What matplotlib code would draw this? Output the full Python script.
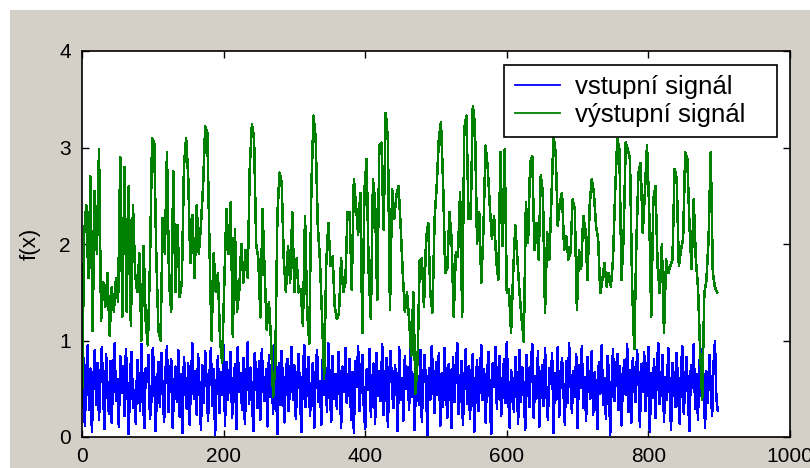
#!/usr/bin/env python3
'''Vstupni a vystupni signal - prekresleni grafu z MATLABu'''
import numpy as np
import matplotlib.pyplot as plt
from matplotlib.patches import Rectangle

# vstupni signal (sum 0..1), odecteno po 2 vzorcich
signal_in = [
    .35, .82, .12, .64, .95, .28, .71, .05, .58, .90, .33, .77, .18, .62, .93, .41, .08, .86, .52, .24, .79, .15, .68, .97, .37, .60, .11, .84, .46, .73,
    .22, .91, .55, .03, .66, .88, .30, .49, .14, .80, .62, .27, .96, .43, .09, .71, .57, .85, .19, .38, .92, .64, .06, .53, .78, .31, .87, .45, .16, .69,
    .94, .26, .59, .81, .10, .47, .73, .36, .90, .21, .65, .04, .83, .56, .29, .76, .13, .61, .97, .40, .68, .23, .86, .50, .07, .74, .35, .89, .58, .17,
    .63, .92, .32, .70, .02, .54, .84, .25, .67, .44, .95, .12, .78, .39, .60, .88, .20, .51, .75, .08, .93, .47, .66, .28, .82, .14, .57, .98, .34, .72,
    .45, .06, .87, .61, .30, .79, .18, .91, .52, .37, .70, .11, .85, .42, .64, .24, .96, .55, .03, .76, .33, .89, .48, .15, .68, .81, .27, .60, .93, .38,
    .74, .19, .57, .86, .41, .05, .69, .95, .31, .62, .83, .22, .50, .77, .09, .66, .90, .36, .58, .13, .80, .44, .71, .26, .97, .53, .16, .84, .40, .65,
    .29, .88, .60, .10, .73, .47, .92, .35, .56, .81, .18, .67, .04, .79, .52, .94, .27, .63, .85, .32, .08, .70, .49, .91, .21, .59, .76, .14, .87, .43,
    .68, .37, .96, .23, .55, .82, .11, .64, .89, .46, .30, .74, .58, .06, .93, .39, .61, .17, .84, .50, .72, .28, .95, .42, .65, .07, .80, .54, .33, .90,
    .16, .62, .85, .48, .02, .71, .39, .94, .57, .25, .78, .44, .87, .12, .66, .31, .92, .53, .20, .75, .60, .09, .83, .36, .69, .97, .24, .51, .79, .13,
    .56, .91, .34, .73, .19, .64, .86, .05, .47, .80, .27, .62, .95, .38, .70, .15, .58, .88, .41, .03, .76, .52, .93, .29, .67, .84, .22, .45, .81, .35,
    .98, .43, .10, .69, .57, .26, .83, .61, .14, .90, .36, .72, .49, .07, .85, .54, .31, .77, .96, .20, .63, .40, .89, .11, .58, .74, .32, .92, .46, .18,
    .71, .55, .87, .04, .66, .39, .93, .21, .60, .82, .48, .13, .79, .35, .97, .57, .25, .68, .42, .86, .09, .74, .51, .94, .30, .62, .17, .83, .56, .40,
    .89, .23, .67, .50, .08, .78, .45, .95, .33, .61, .19, .84, .70, .02, .53, .91, .37, .64, .86, .28, .73, .12, .59, .80, .44, .96, .26, .69, .15, .82,
    .52, .36, .90, .63, .11, .75, .47, .88, .27, .58, .93, .05, .66, .41, .81, .20, .72, .97, .34, .55, .85, .16, .62, .39, .92, .48, .07, .77, .60, .31,
    .87, .45, .14, .70, .94, .24, .59, .83, .38, .06, .74, .51, .96, .29, .65, .18, .80, .43, .91, .57, .10, .68, .35, .85, .53, .22, .76, .99, .40, .27,
]
step_in = 2

# vystupni signal, odecteno po 3 vzorcich
signal_out = [
    # 0 - 147
    0.3, 2.1, 2.4, 1.65, 2.7, 1.1, 2.55, 1.9, 2.98, 1.2,
    1.6, 1.35, 1.7, 1.05, 1.55, 1.3, 1.65, 1.4, 2.9, 1.25,
    2.8, 1.3, 2.6, 1.15, 2.4, 1.7, 1.5, 1.9, 1.0, 1.98,
    1.2, 0.95, 1.8, 3.1, 3.05, 1.85, 1.1, 1.0, 2.27, 1.9,
    2.95, 1.6, 1.3, 2.75, 1.5, 2.2, 1.45, 1.6, 2.8,
    # 147 - 297
    3.1, 2.7, 1.8, 2.3, 1.65, 2.4, 1.9, 2.2, 2.6, 3.22,
    3.15, 2.0, 1.0, 1.9, 1.5, 1.7, 1.0, 0.77, 1.6, 2.36,
    1.9, 2.43, 1.04, 2.15, 1.3, 1.5, 2.0, 1.6, 1.94, 1.65,
    2.8, 3.24, 3.1, 2.0, 1.85, 1.24, 2.36, 1.7, 1.11, 1.4,
    1.0, 0.42, 0.76, 2.3, 2.74, 2.64, 1.84, 1.5, 1.98, 1.6,
    # 297 - 447
    2.33, 1.5, 1.85, 1.5, 1.53, 1.15, 2.29, 1.3, 0.97, 2.6,
    3.33, 3.1, 2.2, 1.84, 1.25, 0.6, 1.8, 2.22, 1.77, 1.87,
    1.35, 1.22, 1.29, 1.85, 1.5, 1.6, 2.33, 2.33, 1.53, 2.67,
    2.4, 2.1, 2.53, 1.08, 2.57, 2.88, 1.7, 1.22, 2.67, 2.43,
    1.42, 3.02, 3.05, 2.15, 3.36, 3.09, 1.32, 2.57, 2.26, 2.5,
    # 447 - 597
    2.6, 2.2, 1.7, 1.3, 1.5, 1.22, 0.84, 1.5, 0.45, 0.8,
    1.83, 1.85, 1.35, 2.05, 2.22, 1.49, 1.29, 2.26, 2.6, 3.09,
    3.26, 2.64, 1.7, 1.75, 2.33, 2.05, 1.25, 1.91, 1.87, 2.54,
    1.25, 3.2, 3.33, 2.26, 2.26, 3.43, 3.24, 2.0, 2.33, 1.6,
    2.15, 3.02, 2.8, 2.39, 2.05, 2.29, 1.84, 1.63, 2.95, 1.98,
    # 597 - 747
    2.98, 1.49, 1.53, 1.08, 1.7, 2.19, 1.84, 1.49, 1.22, 0.99,
    2.43, 2.01, 2.84, 2.91, 1.94, 2.22, 1.84, 2.71, 2.53, 1.29,
    2.12, 1.84, 2.46, 3.12, 2.95, 2.19, 2.43, 2.53, 1.94, 2.08,
    1.84, 1.91, 2.46, 2.36, 1.32, 1.94, 1.74, 2.29, 2.15, 1.63,
    2.39, 2.67, 2.53, 2.19, 2.05, 1.49, 1.63, 1.8, 1.56, 1.7,
    # 747 - 900
    1.56, 1.84, 2.53, 3.09, 2.98, 1.63, 2.08, 3.05, 2.98, 2.88,
    1.56, 0.91, 2.01, 2.74, 2.84, 2.12, 2.53, 3.02, 2.39, 1.25,
    2.46, 2.6, 1.77, 1.49, 2.0, 1.08, 1.84, 1.7, 1.77, 1.84,
    2.78, 2.67, 1.77, 1.94, 2.05, 2.95, 2.88, 2.19, 1.74, 2.46,
    1.84, 1.56, 0.9, 0.39, 1.49, 1.63, 2.05, 2.95, 1.7, 1.55, 1.5,
]
step_out = 3

labels = ['vstupní signál', 'výstupní signál']
xticks = [0, 200, 400, 600, 800, 1000]
yticks = [0, 1, 2, 3, 4]

W, H = 810, 468
GRAY = '#d4d0c8'
TICKFONT = ['Liberation Sans Narrow', 'Liberation Sans', 'DejaVu Sans']


def main():
    fig = plt.figure(figsize=(W / 100, H / 100), dpi=100, facecolor=GRAY)
    # bily okraj nahore a vlevo (vyrez obrazovky)
    fig.patches.append(Rectangle((0, 0), 10 / W, 1, transform=fig.transFigure,
                                 facecolor='white', edgecolor='none', zorder=-1))
    fig.patches.append(Rectangle((0, 1 - 10 / H), 1, 10 / H, transform=fig.transFigure,
                                 facecolor='white', edgecolor='none', zorder=-1))

    ax = fig.add_axes([82 / W, 1 - 437 / H, (790 - 82) / W, (437 - 51) / H])
    ax.set_facecolor('white')

    x_in = np.arange(len(signal_in)) * step_in
    x_out = np.arange(len(signal_out)) * step_out
    ax.plot(x_in, signal_in, color='#0000ff', lw=1.1, antialiased=False,
            label=labels[0])
    ax.plot(x_out, signal_out, color='#008000', lw=1.1, antialiased=False,
            label=labels[1])

    ax.set_xlim(0, 1000)
    ax.set_ylim(0, 4)
    ax.set_xticks(xticks)
    ax.set_yticks(yticks)
    ax.tick_params(direction='in', length=5, width=1, top=True, right=True,
                   labelsize=15, colors='black')
    ax.tick_params(axis='y', pad=8)
    ax.tick_params(axis='x', pad=7)
    for lab in ax.get_xticklabels() + ax.get_yticklabels():
        lab.set_family(TICKFONT)
    for sp in ax.spines.values():
        sp.set_linewidth(1.2)
        sp.set_color('black')

    ax.text(-0.0734, 0.5, 'f(x)', rotation=90, ha='center', va='center',
            transform=ax.transAxes, fontsize=16, family=TICKFONT)

    # MATLAB nechava v legende vic mista vpravo od textu
    leg = ax.legend([lab + '   ' for lab in labels], loc='upper right',
                    bbox_to_anchor=(0.9816, 0.9637),
                    borderaxespad=0, fancybox=False, framealpha=1,
                    edgecolor='black', prop={'family': 'Liberation Sans', 'size': 18.5},
                    handlelength=1.75, handletextpad=0.6, borderpad=0.4,
                    labelspacing=0.15)
    leg.get_frame().set_linewidth(1.2)
    for line in leg.get_lines():
        line.set_linewidth(1.3)

    fig.savefig('out.png', dpi=100, facecolor=GRAY)


if __name__ == "__main__":
    main()
